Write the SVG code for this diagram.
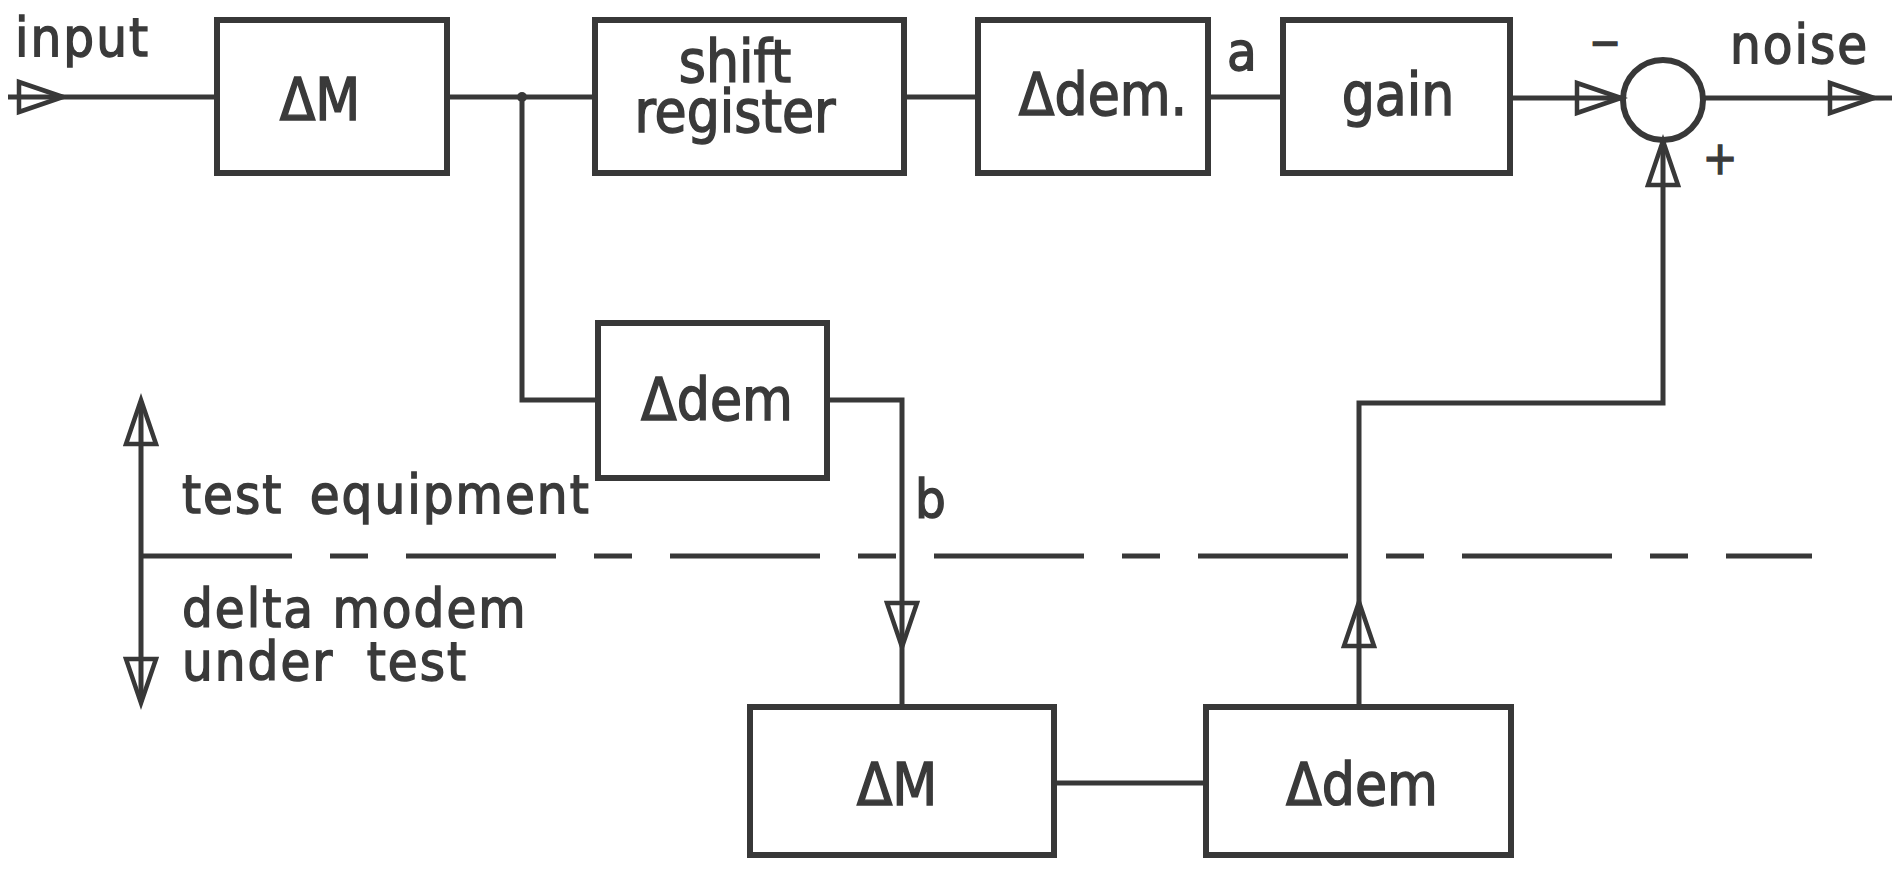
<svg xmlns="http://www.w3.org/2000/svg" xmlns:xlink="http://www.w3.org/1999/xlink" width="1894" height="870" viewBox="0 0 1894 870">
<style>
.box{fill:none;stroke:#383838;stroke-width:6}
.ln{fill:none;stroke:#383838;stroke-width:5}
.ah{fill:none;stroke:#383838;stroke-width:4.5;stroke-linejoin:miter}
.t{font-family:"DejaVu Sans Condensed","DejaVu Sans","Liberation Sans",sans-serif;font-stretch:condensed;font-size:54px;fill:#3a3a3a;stroke:#3a3a3a;stroke-width:1.4px;letter-spacing:2px}
.b{font-size:58px;letter-spacing:0}
.m{text-anchor:middle}
</style>
<defs>
<path id="ah" class="ah" d="M0,0 L-44,-15 L-44,15 Z"/>
</defs>
<rect width="1894" height="870" fill="#ffffff"/>
<g id="connectors">
<path class="ln" d="M8,97 H217"/>
<path class="ln" d="M447,97 H595"/>
<path class="ln" d="M904,97 H978"/>
<path class="ln" d="M1208,97 H1283"/>
<path class="ln" d="M1510,98 H1623"/>
<path class="ln" d="M1703,98 H1892"/>
<path class="ln" d="M522,97 V400 H598"/>
<path class="ln" d="M827,400 H902 V707"/>
<path class="ln" d="M1054,783 H1206"/>
<path class="ln" d="M1359,707 V403 H1663 V140"/>
<circle cx="522" cy="97" r="5" fill="#383838"/>
<use xlink:href="#ah" transform="translate(63,97)"/>
<use xlink:href="#ah" transform="translate(1621,98)"/>
<use xlink:href="#ah" transform="translate(1874,98)"/>
<use xlink:href="#ah" transform="translate(902,647) rotate(90)"/>
<use xlink:href="#ah" transform="translate(1359,602) rotate(-90)"/>
<use xlink:href="#ah" transform="translate(1663,141) rotate(-90)"/>
</g>
<g id="input-label"><text class="t" x="15" y="56">input</text></g>
<g id="dm1"><rect class="box" x="217" y="20" width="230" height="153"/><text class="t b m" x="320" y="120">ΔM</text></g>
<g id="shift"><rect class="box" x="595" y="20" width="309" height="153"/><text class="t b m" x="735" y="82">shift</text><text class="t b m" x="735" y="132">register</text></g>
<g id="dem1"><rect class="box" x="978" y="20" width="230" height="153"/><text class="t b m" x="1103" y="115">Δdem.</text></g>
<g id="label-a"><text class="t" x="1227" y="70">a</text></g>
<g id="gain"><rect class="box" x="1283" y="20" width="227" height="153"/><text class="t b m" x="1398" y="115">gain</text></g>
<g id="sum"><circle class="box" cx="1663" cy="100" r="40"/><text class="t m" x="1605" y="57" style="font-size:42px;letter-spacing:0">−</text><text class="t m" x="1720" y="174" style="font-size:46px;letter-spacing:0">+</text></g>
<g id="noise-label"><text class="t" x="1730" y="63">noise</text></g>
<g id="dem2"><rect class="box" x="598" y="323" width="229" height="155"/><text class="t b m" x="717" y="420">Δdem</text></g>
<g id="label-b"><text class="t" x="915" y="518">b</text></g>
<g id="dm2"><rect class="box" x="750" y="707" width="304" height="148"/><text class="t b m" x="897" y="805">ΔM</text></g>
<g id="dem3"><rect class="box" x="1206" y="707" width="305" height="148"/><text class="t b m" x="1362" y="805">Δdem</text></g>
<g id="boundary">
<path class="ln" d="M142,556 H1812" stroke-dasharray="150 38 38 38"/>
<path class="ln" d="M141,404 V699"/>
<use xlink:href="#ah" transform="translate(141,400) rotate(-90)"/>
<use xlink:href="#ah" transform="translate(141,703) rotate(90)"/>
<text class="t" x="182" y="513" letter-spacing="1" word-spacing="9">test equipment</text>
<text class="t" x="182" y="627" letter-spacing="2.5">delta modem</text>
<text class="t" x="182" y="680" letter-spacing="1" word-spacing="15">under test</text>
</g>
</svg>
